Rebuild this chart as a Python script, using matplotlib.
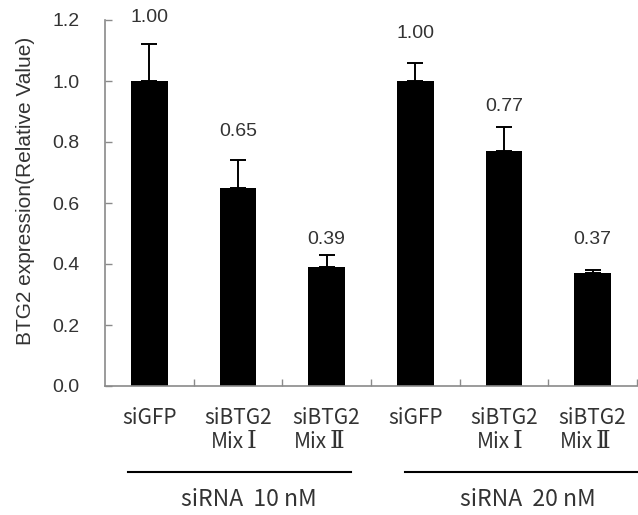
import matplotlib
matplotlib.use("Agg")
import matplotlib.pyplot as plt
import matplotlib.transforms as mtransforms

# Data
cat_line1 = ["siGFP", "siBTG2", "siBTG2", "siGFP", "siBTG2", "siBTG2"]
cat_mix = ["", "Mix", "Mix", "", "Mix", "Mix"]
cat_numeral = ["", "Ⅰ", "Ⅱ", "", "Ⅰ", "Ⅱ"]
values = [1.00, 0.65, 0.39, 1.00, 0.77, 0.37]
errors = [0.12, 0.09, 0.04, 0.06, 0.08, 0.01]
value_labels = ["1.00", "0.65", "0.39", "1.00", "0.77", "0.37"]
groups = ["siRNA  10 nM", "siRNA  20 nM"]
y_ticks = [0.0, 0.2, 0.4, 0.6, 0.8, 1.0, 1.2]

# Layout
label_y = [1.207, 0.833, 0.479, 1.157, 0.915, 0.479]
group_spans = [(0.26, 2.78), (3.38, 6.2)]
group_centers = [1.62, 4.77]
numeral_shift = {"Ⅰ": 4.0, "Ⅱ": 0.0}   # points, right edge of "Mix" from bar centre

num_font = ["Liberation Sans", "DejaVu Sans"]
cjk_font = ["Noto Sans CJK KR", "DejaVu Sans"]
serif_font = ["DejaVu Serif", "DejaVu Sans"]
text_color = "#333333"
axis_color = "#8a8a8a"

fig = plt.figure(figsize=(6.38, 5.15), dpi=100)
ax = fig.add_axes([105 / 638, 1 - 386 / 515, 532 / 638, 366 / 515])

x = [i + 0.5 for i in range(len(values))]
ax.bar(x, values, width=0.41, color="black", zorder=2)
ax.errorbar(x, values, yerr=[[0] * len(errors), errors], fmt="none",
            ecolor="black", elinewidth=1.4, capsize=5.5, capthick=1.4, zorder=3)

for xi, yl, txt in zip(x, label_y, value_labels):
    ax.text(xi, yl, txt, ha="center", va="center", fontsize=14,
            family=num_font, color=text_color)

ax.set_xlim(0, 6)
ax.set_ylim(0, 1.2)
ax.set_yticks(y_ticks)
ax.set_yticklabels([f"{t:.1f}" for t in y_ticks], family=num_font,
                   fontsize=14, color=text_color)
ax.set_xticks(range(1, 7))
ax.set_xticklabels([])
ax.tick_params(axis="both", direction="in", length=5, width=1, color=axis_color)
ax.tick_params(axis="y", pad=18.5)

for side in ["top", "right"]:
    ax.spines[side].set_visible(False)
for side in ["left", "bottom"]:
    ax.spines[side].set_color(axis_color)
    ax.spines[side].set_linewidth(1.2)

# Category labels under the axis
trans = mtransforms.blended_transform_factory(ax.transData, fig.transFigure)
for xi, l1, mix, num in zip(x, cat_line1, cat_mix, cat_numeral):
    ax.text(xi, 1 - 418 / 515, l1, transform=trans, ha="center", va="center",
            fontsize=15, family=cjk_font, color=text_color)
    if mix:
        dx = numeral_shift[num]
        t_mix = mtransforms.offset_copy(trans, fig=fig, x=dx, y=0, units="points")
        t_num = mtransforms.offset_copy(trans, fig=fig, x=dx + 2.0, y=0, units="points")
        ax.text(xi, 1 - 442 / 515, mix, transform=t_mix, ha="right", va="center",
                fontsize=15, family=cjk_font, color=text_color)
        ax.text(xi, 1 - 442 / 515, num, transform=t_num, ha="left", va="center",
                fontsize=18, family=serif_font, color=text_color)

# Group brackets and labels
for (x0, x1), xc, g in zip(group_spans, group_centers, groups):
    ax.plot([x0, x1], [1 - 472 / 515] * 2, transform=trans, color="black",
            lw=1.5, clip_on=False)
    ax.text(xc, 1 - 500 / 515, g, transform=trans, ha="center", va="center",
            fontsize=16.5, family=cjk_font, color=text_color)

fig.text(26 / 638, 1 - 191 / 515, "BTG2 expression(Relative Value)",
         rotation=90, ha="center", va="center", fontsize=15,
         family=num_font, color=text_color)

fig.savefig("out.png", dpi=100)
